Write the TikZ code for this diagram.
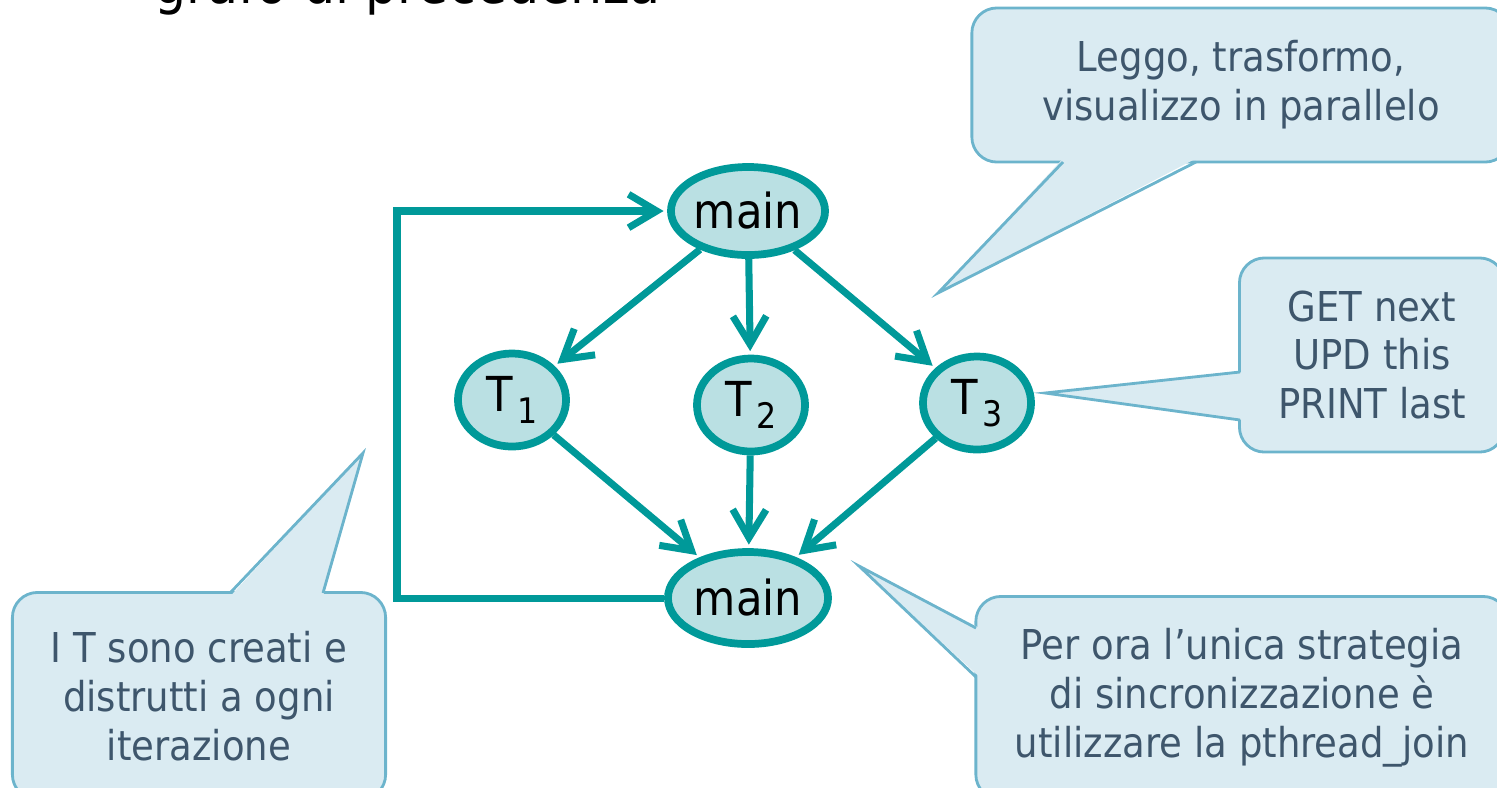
\documentclass[tikz,border=0pt]{standalone}
\usepackage{fontspec}
\setmainfont{DejaVu Sans}[FakeStretch=0.9]
\usetikzlibrary{shapes.geometric,arrows.meta}
\definecolor{flowteal}{RGB}{0,153,153}
\definecolor{taskfill}{RGB}{186,224,227}
\definecolor{notefill}{RGB}{218,235,242}
\definecolor{noteline}{RGB}{108,180,204}
\definecolor{notetext}{RGB}{62,86,108}
\newcommand{\tsub}[1]{T\hspace{1.5pt}\raisebox{-3.3pt}{\fontsize{10}{10}\selectfont #1}}
\begin{document}
\begin{tikzpicture}[x=0.01cm,y=-0.01cm,
  task/.style={ellipse,draw=flowteal,line width=2.2pt,fill=taskfill,inner sep=0pt,
    minimum width=1.08cm,minimum height=0.93cm,font=\fontsize{13.7}{16}\selectfont},
  mainjob/.style={task,minimum width=1.54cm,minimum height=0.88cm},
  flow/.style={draw=flowteal,line width=2pt,shorten >=1pt,
    -{Straight Barb[length=8pt,width=9.5pt]}},
  note/.style={rectangle,rounded corners=0.25cm,draw=noteline,line width=0.8pt,
    fill=notefill,text=notetext,align=center,inner sep=0pt,
    font=\fontsize{11.7}{13.9}\selectfont},
  notetip/.style={draw=noteline,line width=0.8pt}]

\useasboundingbox (0,0) rectangle (1497,787);
\clip (0,0) rectangle (1497,787);

\node[anchor=base west,font=\fontsize{16}{19}\selectfont] (title) at (142,3) {grafo di precedenza};

% callouts
\node[note,minimum width=5.38cm,minimum height=1.54cm] (leggo) at (1241,85)
  {Leggo, trasformo,\\visualizzo in parallelo};
\node[note,minimum width=2.65cm,minimum height=1.94cm] (getnext) at (1372,355)
  {GET next\\UPD this\\PRINT last};
\node[note,minimum width=3.73cm,minimum height=2.07cm] (creati) at (199,696)
  {I T sono creati e\\distrutti a ogni\\iterazione};
\node[note,minimum width=5.32cm,minimum height=2.03cm] (join) at (1242,698)
  {Per ora l’unica strategia\\di sincronizzazione è\\utilizzare la pthread\_join};

\coordinate (leggoa) at (1063,162);
\coordinate (leggob) at (1196,162);
\coordinate (leggotip) at (938,293);
\coordinate (geta) at (1240,372);
\coordinate (getb) at (1240,420);
\coordinate (gettip) at (1045,393);
\coordinate (creatia) at (230,593);
\coordinate (creatib) at (323,593);
\coordinate (creatitip) at (363,453);
\coordinate (joina) at (976,628);
\coordinate (joinb) at (976,677);
\coordinate (jointip) at (859,566);

\fill[notefill] ([yshift=1pt]leggoa) -- (leggotip) -- ([yshift=1pt]leggob) -- cycle;
\draw[notetip] (leggoa) -- (leggotip) -- (leggob);
\fill[notefill] ([xshift=1pt]geta) -- (gettip) -- ([xshift=1pt]getb) -- cycle;
\draw[notetip] (geta) -- (gettip) -- (getb);
\fill[notefill] ([yshift=-1pt]creatia) -- (creatitip) -- ([yshift=-1pt]creatib) -- cycle;
\draw[notetip] (creatia) -- (creatitip) -- (creatib);
\fill[notefill] ([xshift=1pt]joina) -- (jointip) -- ([xshift=1pt]joinb) -- cycle;
\draw[notetip] (joina) -- (jointip) -- (joinb);

% graph
\node[mainjob] (maintop) at (748,211) {main};
\node[task] (t1) at (512,400) {\tsub{1}};
\node[task] (t2) at (751,405) {\tsub{2}};
\node[task] (t3) at (977,403) {\tsub{3}};
\node[mainjob,minimum width=1.6cm,minimum height=0.92cm] (mainbot) at (748,598) {main};

\draw[flow] (maintop) -- (t1);
\draw[flow] (maintop) -- (t2);
\draw[flow] (maintop) -- (t3);
\draw[flow] (t1) -- (mainbot);
\draw[flow] (t2) -- (mainbot);
\draw[flow] (t3) -- (mainbot);

\coordinate (loopbot) at (397,598);
\coordinate (looptop) at (397,211);
\draw[flow] (mainbot) -- (loopbot) -- (looptop) -- (maintop);
\end{tikzpicture}
\end{document}
